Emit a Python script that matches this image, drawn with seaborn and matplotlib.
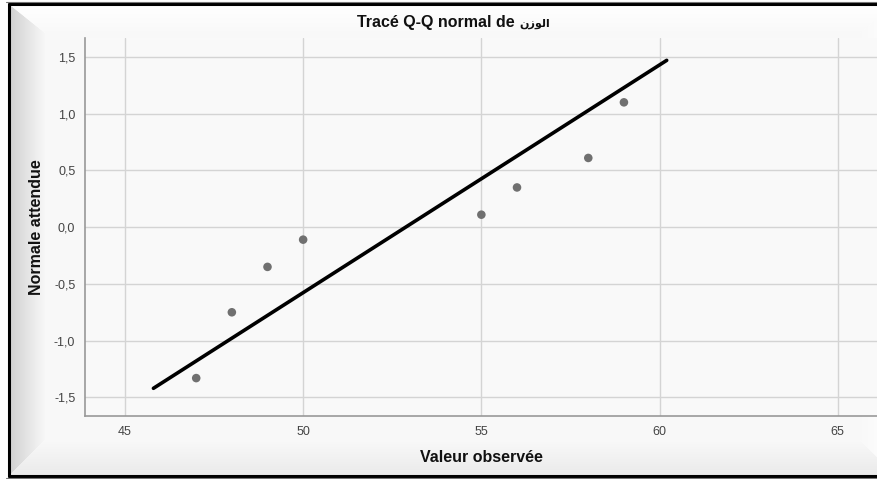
import numpy as np
import pandas as pd
import seaborn as sns
import matplotlib.pyplot as plt
from matplotlib.patches import Polygon

# --- DATA ---
observed = [47, 48, 49, 50, 55, 56, 58, 59]
expected = [-1.33, -0.75, -0.35, -0.11, 0.11, 0.35, 0.61, 1.10]
line_x = [45.8, 60.2]
line_y = [-1.42, 1.47]
x_ticks = [45, 50, 55, 60, 65]
y_ticks = [-1.5, -1.0, -0.5, 0.0, 0.5, 1.0, 1.5]

# "الوزن" written in Arabic presentation forms (visual order) since matplotlib does no shaping
TITLE_LATIN = "Tracé Q-Q normal de"
TITLE_ARABIC = "\uFEE5\uFEAF\uFEEE\uFEDF\uFE8D"
XLABEL = "Valeur observée"
YLABEL = "Normale attendue"

sns.set_style("whitegrid")
plt.rcParams["font.family"] = ["Liberation Sans", "DejaVu Sans"]

W, H = 878, 479
fig = plt.figure(figsize=(W / 100, H / 100), dpi=100)
fig.patch.set_facecolor("white")

# --- beveled SPSS frame drawn in pixel space ---
bg = fig.add_axes([0, 0, 1, 1])
bg.set_xlim(0, W)
bg.set_ylim(H, 0)
bg.axis("off")

L, T, B, R = 10, 5, 475, 895
iL, iT, iB, iR = 45, 33, 440, 860


def grad_poly(ax, pts, c0, c1, horizontal, extent):
    poly = Polygon(pts, closed=True, facecolor="none", edgecolor="none")
    ax.add_patch(poly)
    g = np.linspace(0, 1, 256)
    img = g[None, :] if horizontal else g[:, None]
    c0 = np.array(c0)
    c1 = np.array(c1)
    rgb = c0[None, None, :] * (1 - img[..., None]) + c1[None, None, :] * img[..., None]
    im = ax.imshow(rgb, extent=extent, aspect="auto", zorder=1, origin="upper")
    im.set_clip_path(poly)


grad_poly(bg, [(L, T), (iL, iT), (iL, iB), (L, B)],
          (0.82, 0.82, 0.82), (0.97, 0.97, 0.97), True, (L, iL, B, T))
grad_poly(bg, [(L, T), (R, T), (iR, iT), (iL, iT)],
          (1.0, 1.0, 1.0), (0.975, 0.975, 0.975), False, (L, R, iT, T))
grad_poly(bg, [(L, B), (R, B), (iR, iB), (iL, iB)],
          (0.975, 0.975, 0.975), (0.92, 0.92, 0.92), False, (L, R, B, iB))
grad_poly(bg, [(R, T), (iR, iT), (iR, iB), (R, B)],
          (0.975, 0.975, 0.975), (1.0, 1.0, 1.0), True, (iR, R, B, T))
bg.add_patch(plt.Rectangle((iL, iT), iR - iL, iB - iT, facecolor="#f8f8f8",
                           edgecolor="none", zorder=1))
bg.plot([L - 1, W + 5], [T - 1, T - 1], color="black", lw=2.2, zorder=3)
bg.plot([L - 1, W + 5], [B + 1, B + 1], color="black", lw=2.2, zorder=3)
bg.plot([L - 1, L - 1], [T - 1, B + 1], color="black", lw=2.2, zorder=3)
bg.plot([L - 4, W + 5], [T - 3, T - 3], color="#777777", lw=0.8, zorder=3)
bg.plot([L - 4, W + 5], [B + 3, B + 3], color="#777777", lw=0.8, zorder=3)

# --- plot area ---
ax = fig.add_axes([85 / W, (H - 416) / H, (877 - 85) / W, (416 - 38) / H])
ax.set_facecolor("#f9f9f9")

df = pd.DataFrame({"Observed": observed, "Expected": expected})
line_df = pd.DataFrame({"x": line_x, "y": line_y})

sns.lineplot(data=line_df, x="x", y="y", ax=ax, color="black", lw=2.6, zorder=3)
sns.scatterplot(data=df, x="Observed", y="Expected", ax=ax, color="#707070",
                s=38, edgecolor="none", zorder=4)

ax.set_xlim(43.88, 66.1)
ax.set_ylim(-1.664, 1.667)
ax.set_xticks(x_ticks)
ax.set_xticklabels([str(t) for t in x_ticks])
ax.set_yticks(y_ticks)
ax.set_yticklabels([f"{t:.1f}".replace(".", ",") for t in y_ticks])
ax.tick_params(axis="both", labelsize=9, colors="#444444", length=0, pad=7)
ax.grid(True, color="#d4d4d4", lw=1)

for side in ["top", "right"]:
    ax.spines[side].set_visible(False)
for side in ["left", "bottom"]:
    ax.spines[side].set_color("#999999")
    ax.spines[side].set_linewidth(1.2)

ax.set_xlabel(XLABEL, fontsize=11.5, fontweight="bold", color="#111111", labelpad=9)
ax.set_ylabel(YLABEL, fontsize=11.5, fontweight="bold", color="#111111", labelpad=7)
fig.text(515 / W, 1 - 23 / H, TITLE_LATIN, ha="right", va="center", fontsize=11.5,
         fontweight="bold", color="#111111")
fig.text(519 / W, 1 - 24 / H, TITLE_ARABIC, ha="left", va="center", fontsize=8,
         fontweight="bold", color="#111111")

fig.savefig("out.png", dpi=100)
